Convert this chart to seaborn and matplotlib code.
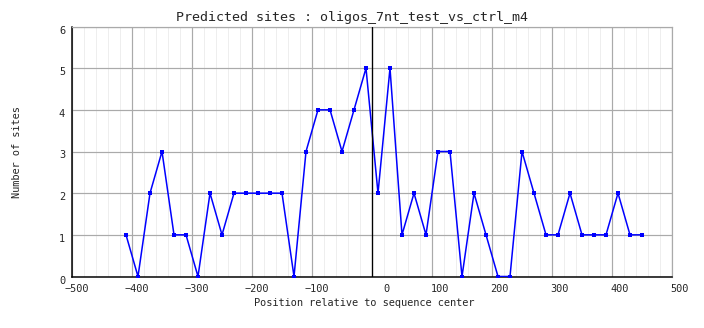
import matplotlib
matplotlib.use("Agg")
import matplotlib.pyplot as plt
import matplotlib.transforms as mtransforms
from matplotlib.ticker import MultipleLocator
import seaborn as sns
import pandas as pd

# Site counts per 20-nt window, centred at each position
positions = [-410, -390, -370, -350, -330, -310, -290, -270, -250, -230,
             -210, -190, -170, -150, -130, -110, -90, -70, -50, -30,
             -10, 10, 30, 50, 70, 90, 110, 130, 150, 170,
             190, 210, 230, 250, 270, 290, 310, 330, 350, 370,
             390, 410, 430, 450]
counts = [1, 0, 2, 3, 1, 1, 0, 2, 1, 2,
          2, 2, 2, 2, 0, 3, 4, 4, 3, 4,
          5, 2, 5, 1, 2, 1, 3, 3, 0, 2,
          1, 0, 0, 3, 2, 1, 1, 2, 1, 1,
          1, 2, 1, 1]
x_ticks = [-500, -400, -300, -200, -100, 0, 100, 200, 300, 400, 500]
y_ticks = [0, 1, 2, 3, 4, 5, 6]

title = "Predicted sites : oligos_7nt_test_vs_ctrl_m4"
x_label = "Position relative to sequence center"
y_label = "Number of sites"

df = pd.DataFrame({"position": positions, "sites": counts})

sns.set_style("white")
plt.rcParams["font.family"] = ["DejaVu Sans Mono"]

W, H, DPI = 704, 328, 100
PX = 72 / DPI  # one pixel in points
fig = plt.figure(figsize=(W / DPI, H / DPI), dpi=DPI)
ax = fig.add_axes([72 / W, (H - 276.5) / H, 600 / W, (276.5 - 26.5) / H])

sns.lineplot(data=df, x="position", y="sites", ax=ax, color="#0000ff",
             linewidth=1.1, marker="s", markersize=3.2, markeredgewidth=0,
             zorder=3)

ax.axvline(0, color="black", linewidth=1.3 * PX, zorder=4)

ax.set_xlim(-500, 500)
ax.set_ylim(0, 6)
ax.set_xticks(x_ticks)
ax.set_yticks(y_ticks)
ax.xaxis.set_minor_locator(MultipleLocator(20))

ax.grid(which="major", color="#aaaaaa", linewidth=1.2 * PX, zorder=1)
ax.grid(which="minor", axis="x", color="#eeeeee", linewidth=1.0 * PX, zorder=0)
ax.set_axisbelow(True)

for side in ("top", "right"):
    ax.spines[side].set_color("#aaaaaa")
    ax.spines[side].set_linewidth(1.2 * PX)
for side in ("left", "bottom"):
    ax.spines[side].set_color("black")
    ax.spines[side].set_linewidth(1.5 * PX)

ax.tick_params(which="both", length=0)
ax.tick_params(axis="x", labelsize=7.4, pad=5.5)
ax.tick_params(axis="y", labelsize=7.4, pad=5)

# x labels sit right-aligned just past their tick, y labels slightly lowered
shift_x = mtransforms.ScaledTranslation(17 / DPI, 0, fig.dpi_scale_trans)
for lbl in ax.get_xticklabels():
    lbl.set_horizontalalignment("right")
    lbl.set_transform(lbl.get_transform() + shift_x)
shift_y = mtransforms.ScaledTranslation(0, -3 / DPI, fig.dpi_scale_trans)
for lbl in ax.get_yticklabels():
    lbl.set_transform(lbl.get_transform() + shift_y)

ax.set_xlabel("")
ax.set_ylabel("")
fig.text(364 / W, 1 - 303 / H, x_label, ha="center", va="center", fontsize=7.4)
fig.text(17 / W, 1 - 152 / H, y_label, ha="center", va="center",
         rotation=90, fontsize=7.4)
fig.text(352 / W, 1 - 18 / H, title, ha="center", va="center", fontsize=9.6)

fig.savefig("out.png", dpi=DPI, facecolor="white")
